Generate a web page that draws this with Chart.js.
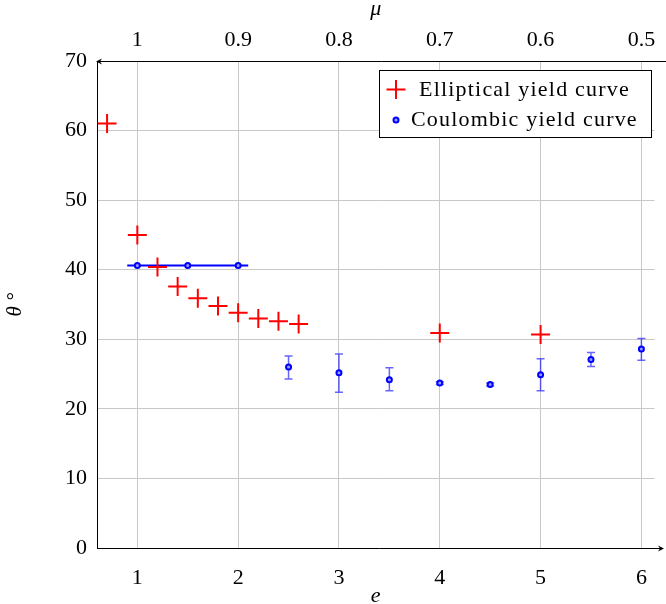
<!DOCTYPE html>
<html>
<head>
<meta charset="utf-8">
<script src="https://cdn.jsdelivr.net/npm/chart.js@4.4.0/dist/chart.umd.min.js"></script>
<style>
  html, body { margin: 0; padding: 0; background: #fff; }
  #wrap { width: 666px; height: 604px; }
</style>
</head>
<body>
<div id="wrap"><canvas id="plot"></canvas></div>
<script>
const SERIF = '"Liberation Serif", "DejaVu Serif", serif';

// Elliptical yield curve
const ellE     = [0.7, 1.0, 1.2, 1.4, 1.6, 1.8, 2.0, 2.2, 2.4, 2.6, 4.0, 5.0];
const ellTheta = [61.0, 45.0, 40.4, 37.6, 35.9, 34.8, 33.8, 33.0, 32.6, 32.2, 30.9, 30.7];

// Coulombic yield curve, with error bar ends
const coulE     = [1, 1.5, 2, 2.5, 3, 3.5, 4, 4.5, 5, 5.5, 6];
const coulTheta = [40.6, 40.6, 40.6, 26.0, 25.2, 24.2, 23.7, 23.5, 24.9, 27.1, 28.6];
const coulLow   = [null, null, null, 24.3, 22.4, 22.6, 23.5, 23.3, 22.6, 26.1, 27.0];
const coulHigh  = [null, null, null, 27.6, 27.9, 25.9, 23.9, 23.7, 27.2, 28.1, 30.1];

// flat blue segment through the first coulombic points
const plateauE     = [0.9, 2.1];
const plateauTheta = [40.6, 40.6];

// axes
const eTicks     = [1, 2, 3, 4, 5, 6];
const muTicks    = [1.0, 0.9, 0.8, 0.7, 0.6, 0.5];
const thetaTicks = [0, 10, 20, 30, 40, 50, 60, 70];
const eMin = 0.6, eMax = 6.13;
const muOf = e => 1.1 - e / 10;   // top axis: mu = 1.1 - e/10

const GRID = 'rgb(200,200,200)';

function pts(xs, ys) {
  return xs.map((x, i) => ({ x: x, y: ys[i] }));
}

// vertical error bars for the coulombic series
const errorBars = {
  id: 'errorBars',
  beforeDatasetsDraw(chart) {
    const ctx = chart.ctx, xs = chart.scales.x, ys = chart.scales.y;
    ctx.save();
    ctx.strokeStyle = 'rgba(0,0,255,0.6)';
    ctx.lineWidth = 1.5;
    coulE.forEach((e, i) => {
      if (coulLow[i] == null) return;
      const px = xs.getPixelForValue(e);
      const lo = ys.getPixelForValue(coulLow[i]);
      const hi = ys.getPixelForValue(coulHigh[i]);
      ctx.beginPath();
      ctx.moveTo(px, lo); ctx.lineTo(px, hi);
      ctx.moveTo(px - 4, lo); ctx.lineTo(px + 4, lo);
      ctx.moveTo(px - 4, hi); ctx.lineTo(px + 4, hi);
      ctx.stroke();
    });
    ctx.restore();
  }
};

// axis arrows + boxed legend
const decorations = {
  id: 'decorations',
  afterDraw(chart) {
    const ctx = chart.ctx, a = chart.chartArea;
    ctx.save();
    ctx.strokeStyle = '#000';
    ctx.fillStyle = '#000';
    ctx.lineWidth = 1;

    // bottom axis, arrow to the right
    const tip = chart.width - 2;
    ctx.beginPath();
    ctx.moveTo(a.left, a.bottom + 0.5); ctx.lineTo(tip - 2, a.bottom + 0.5);
    ctx.stroke();
    ctx.beginPath();
    ctx.moveTo(tip, a.bottom + 0.5);
    ctx.lineTo(tip - 6, a.bottom - 2.5);
    ctx.lineTo(tip - 4, a.bottom + 0.5);
    ctx.lineTo(tip - 6, a.bottom + 3.5);
    ctx.closePath();
    ctx.fill();

    // top axis, arrow to the left
    ctx.beginPath();
    ctx.moveTo(a.left, a.top + 0.5); ctx.lineTo(chart.width, a.top + 0.5);
    ctx.stroke();
    ctx.beginPath();
    ctx.moveTo(a.left - 1, a.top + 0.5);
    ctx.lineTo(a.left + 5, a.top - 2.5);
    ctx.lineTo(a.left + 3, a.top + 0.5);
    ctx.lineTo(a.left + 5, a.top + 3.5);
    ctx.closePath();
    ctx.fill();

    // legend
    const ell = chart.data.datasets[0], coul = chart.data.datasets[1];
    const bx = 379.5, by = 70.5, bw = 272, bh = 67;
    ctx.fillStyle = '#fff';
    ctx.fillRect(bx, by, bw, bh);
    ctx.strokeRect(bx, by, bw, bh);

    ctx.strokeStyle = ell.borderColor;
    ctx.lineWidth = 2;
    ctx.beginPath();
    ctx.moveTo(396, 80); ctx.lineTo(396, 99);
    ctx.moveTo(386.5, 89.5); ctx.lineTo(405.5, 89.5);
    ctx.stroke();

    ctx.strokeStyle = coul.borderColor;
    ctx.fillStyle = coul.backgroundColor;
    ctx.beginPath();
    ctx.arc(396, 120, 2.5, 0, Math.PI * 2);
    ctx.fill();
    ctx.stroke();

    ctx.fillStyle = '#000';
    ctx.font = '22px ' + SERIF;
    ctx.letterSpacing = '1.2px';
    ctx.textBaseline = 'middle';
    ctx.fillText(ell.label, 419, 90);
    ctx.fillText(coul.label, 411, 120);
    ctx.restore();
  }
};

// keep horizontal axes from reserving room for edge labels
const noEdgePad = s => { s.paddingLeft = 0; s.paddingRight = 0; };

new Chart(document.getElementById('plot'), {
  type: 'scatter',
  data: {
    datasets: [
      {
        label: 'Elliptical yield curve',
        data: pts(ellE, ellTheta),
        pointStyle: 'cross',
        pointRadius: 9.5,
        pointHoverRadius: 9.5,
        borderColor: '#ff0000',
        backgroundColor: '#ff0000',
        pointBorderWidth: 2,
        showLine: false
      },
      {
        label: 'Coulombic yield curve',
        data: pts(coulE, coulTheta),
        pointStyle: 'circle',
        pointRadius: 2.5,
        pointHoverRadius: 2.5,
        borderColor: '#0000ff',
        backgroundColor: '#9a9aff',
        pointBorderWidth: 2,
        showLine: false
      },
      {
        label: 'plateau',
        data: pts(plateauE, plateauTheta),
        showLine: true,
        borderColor: '#0000ff',
        borderWidth: 2,
        pointRadius: 0
      }
    ]
  },
  options: {
    responsive: true,
    maintainAspectRatio: false,
    animation: false,
    layout: { padding: 0 },
    plugins: {
      legend: { display: false },
      tooltip: { enabled: false }
    },
    scales: {
      x: {
        type: 'linear',
        position: 'bottom',
        min: eMin,
        max: eMax,
        afterBuildTicks: s => { s.ticks = eTicks.map(v => ({ value: v })); },
        afterFit: s => { s.height = 56; noEdgePad(s); },
        grid: { color: GRID, tickLength: 0, drawTicks: false },
        border: { display: false },
        ticks: {
          color: '#000',
          padding: 17,
          maxRotation: 0,
          font: { family: SERIF, size: 22 }
        },
        title: {
          display: true,
          text: 'e',
          color: '#000',
          padding: 0,
          font: { family: SERIF, size: 22, style: 'italic', lineHeight: 0.7 }
        }
      },
      mu: {
        type: 'linear',
        position: 'top',
        reverse: true,
        min: muOf(eMax),
        max: muOf(eMin),
        afterBuildTicks: s => { s.ticks = muTicks.map(v => ({ value: v })); },
        afterFit: s => { s.height = 61; noEdgePad(s); },
        grid: { display: false, drawOnChartArea: false },
        border: { display: false },
        ticks: {
          color: '#000',
          padding: 0,
          maxRotation: 0,
          font: { family: SERIF, size: 22 },
          callback: v => String(Math.round(v * 10) / 10)
        },
        title: {
          display: true,
          text: 'μ',
          color: '#000',
          padding: 0,
          font: { family: SERIF, size: 22, style: 'italic', lineHeight: 0.85 }
        }
      },
      y: {
        type: 'linear',
        position: 'left',
        min: 0,
        max: 70,
        afterBuildTicks: s => { s.ticks = thetaTicks.map(v => ({ value: v })); },
        afterFit: s => { s.width = 97; },
        grid: { color: GRID, drawTicks: false },
        border: { display: true, color: '#000', width: 1 },
        ticks: {
          color: '#000',
          padding: 10,
          font: { family: SERIF, size: 22 }
        },
        title: {
          display: true,
          text: 'θ °',
          color: '#000',
          padding: { top: 5, bottom: 0 },
          font: { family: SERIF, size: 21, style: 'italic', lineHeight: 1 }
        }
      }
    }
  },
  plugins: [errorBars, decorations]
});
</script>
</body>
</html>
